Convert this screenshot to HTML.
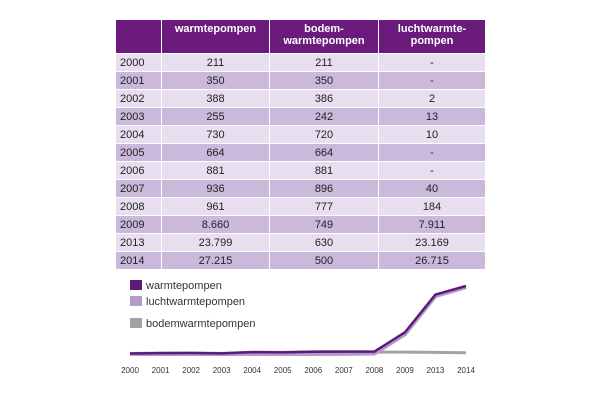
<!DOCTYPE html>
<html><head><meta charset="utf-8"><style>
body{margin:0;width:600px;height:400px;background:#fff;font-family:"Liberation Sans",sans-serif;position:relative;overflow:hidden}
table{position:absolute;left:115px;top:19px;border-collapse:collapse;font-size:11px;color:#222}
td,th{border:1px solid #fff;padding:0;height:17px}
th{background:#6a1b7c;color:#fff;font-weight:bold;height:30px;line-height:12px;vertical-align:top;padding-top:3px}
td{text-align:center}
td:first-child{text-align:left;padding-left:4px}
tr.l td{background:#e7deef}
tr.d td{background:#cbb9dc}
</style></head><body>
<table>
<tr><th style="width:45px"></th><th style="width:107px">warmtepompen</th><th style="width:108px">bodem-<br>warmtepompen</th><th style="width:106px">luchtwarmte-<br>pompen</th></tr>
<tbody id="tb"></tbody>
</table>
<svg id="ch" width="600" height="400" style="position:absolute;left:0;top:0"></svg>
<script>
const years=["2000","2001","2002","2003","2004","2005","2006","2007","2008","2009","2013","2014"];
const warmte=[211,350,388,255,730,664,881,936,961,8660,23799,27215];
const bodem=[211,350,386,242,720,664,881,896,777,749,630,500];
const lucht=[null,null,2,13,10,null,null,40,184,7911,23169,26715];
const warmteLabels=["211","350","388","255","730","664","881","936","961","8.660","23.799","27.215"];
const bodemLabels=["211","350","386","242","720","664","881","896","777","749","630","500"];
const luchtLabels=["-","-","2","13","10","-","-","40","184","7.911","23.169","26.715"];
const tb=document.getElementById('tb');
years.forEach((y,i)=>{
 const tr=document.createElement('tr');
 tr.className=i%2?'d':'l';
 
 
 [y,warmteLabels[i],bodemLabels[i],luchtLabels[i]].forEach(v=>{const td=document.createElement('td');td.textContent=v;tr.appendChild(td);});
 tb.appendChild(tr);
});
const ns='http://www.w3.org/2000/svg';
const svg=document.getElementById('ch');
const x0=130,x1=466,yBase=354,yTop=286,maxV=27215;
const xs=i=>x0+i*(x1-x0)/(years.length-1);
const ys=v=>yBase-(v/maxV)*(yBase-yTop);
function line(data,color,w,name){
 const pts=[];data.forEach((v,i)=>{pts.push(xs(i)+','+ys(v==null?0:v));});
 const p=document.createElementNS(ns,'polyline');
 p.setAttribute('points',pts.join(' '));p.setAttribute('fill','none');p.setAttribute('stroke',color);p.setAttribute('stroke-width',w);p.setAttribute('stroke-linejoin','round');
 
 
 svg.appendChild(p);
}
line(bodem,'#a3a3a3',3,'bodem-line');
line(lucht,'#b39acb',4,'lucht-line');
line(warmte,'#5e1a78',2.5,'warmte-line');
years.forEach((y,i)=>{
 const t=document.createElementNS(ns,'text');
 t.setAttribute('x',xs(i));t.setAttribute('y',373);t.setAttribute('text-anchor','middle');t.setAttribute('font-size','8');t.setAttribute('fill','#333');
 t.textContent=y;
 
 
 svg.appendChild(t);
});
const leg=[["warmtepompen","#5e1a78",286],["luchtwarmtepompen","#b39acb",302],["bodemwarmtepompen","#a3a3a3",324]];
leg.forEach(l=>{
 const r=document.createElementNS(ns,'rect');
 r.setAttribute('x',130);r.setAttribute('y',l[2]-6);r.setAttribute('width',12);r.setAttribute('height',10);r.setAttribute('fill',l[1]);
 
 
 svg.appendChild(r);
 const t=document.createElementNS(ns,'text');
 t.setAttribute('x',146);t.setAttribute('y',l[2]+3);t.setAttribute('font-size','11');t.setAttribute('fill','#333');
 t.textContent=l[0];
 
 
 svg.appendChild(t);
});
</script>
</body></html>
